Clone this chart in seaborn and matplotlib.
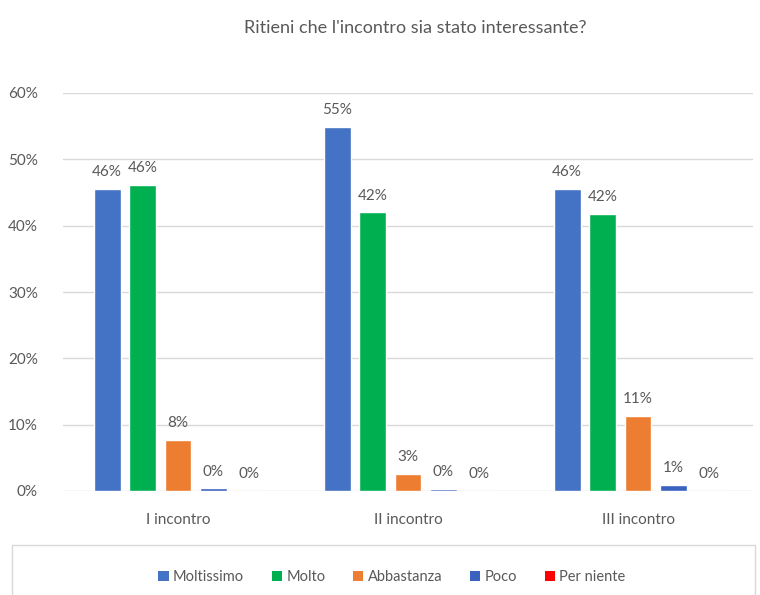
import matplotlib
matplotlib.use("Agg")
import matplotlib.pyplot as plt
import seaborn as sns
import pandas as pd
from matplotlib.patches import Rectangle, Patch

categories = ["I incontro", "II incontro", "III incontro"]
series = ["Moltissimo", "Molto", "Abbastanza", "Poco", "Per niente"]
moltissimo = [45.5, 54.9, 45.6]
molto = [46.2, 42.0, 41.8]
abbastanza = [7.7, 2.6, 11.3]
poco = [0.4, 0.3, 0.9]
per_niente = [0.0, 0.0, 0.0]
colors = ["#4472C4", "#00B050", "#ED7D31", "#3A62C0", "#FF0000"]
yticks = [0, 10, 20, 30, 40, 50, 60]
title = "Ritieni che l'incontro sia stato interessante?"

values = [moltissimo, molto, abbastanza, poco, per_niente]
rows = []
for s, vals in zip(series, values):
    for c, v in zip(categories, vals):
        rows.append({"Incontro": c, "Risposta": s, "Valore": v})
df = pd.DataFrame(rows)

sns.set_theme(style="white")
plt.rcParams["font.family"] = ["Lato", "DejaVu Sans"]
grey = "#595959"

fig = plt.figure(figsize=(7.6, 5.95), dpi=100)
ax = fig.add_axes([63/760, 1-491/595, 690/760, (491-93)/595])

sns.barplot(data=df, x="Incontro", y="Valore", hue="Risposta",
            hue_order=series, order=categories, palette=colors,
            width=0.77, gap=0.24, ax=ax, legend=False, saturation=1)

for cont in ax.containers:
    ax.bar_label(cont, labels=[f"{b.get_height():.0f}%" for b in cont],
                 padding=7, fontsize=11, color=grey)

ax.set_ylim(0, 60)
ax.set_xlim(-0.5, 2.5)
ax.set_yticks(yticks)
ax.set_yticklabels([f"{t}%" for t in yticks])
ax.yaxis.grid(True, color="#D9D9D9", linewidth=1)
ax.set_axisbelow(True)
for sp in ax.spines.values():
    sp.set_visible(False)
ax.tick_params(axis="both", length=0, labelsize=11, colors=grey)
ax.tick_params(axis="y", pad=18)
ax.tick_params(axis="x", pad=16)
ax.set_xlabel("")
ax.set_ylabel("")

fig.text(415/760, 1-28/595, title, ha="center", va="center", fontsize=13, color=grey)

fig.patches.append(Rectangle((12/760, -0.02), 743/760, (595-545)/595 + 0.02,
                             transform=fig.transFigure, fill=False,
                             edgecolor="#D9D9D9", linewidth=1))
handles = [Patch(facecolor=c, edgecolor="none") for c in colors]
fig.legend(handles, series, loc="center", bbox_to_anchor=(392/760, 1-577/595),
           ncol=5, frameon=False, fontsize=10.5, handlelength=0.7, handleheight=0.7,
           handletextpad=0.3, columnspacing=1.9, labelcolor=grey)

fig.savefig("out.png", dpi=100)
